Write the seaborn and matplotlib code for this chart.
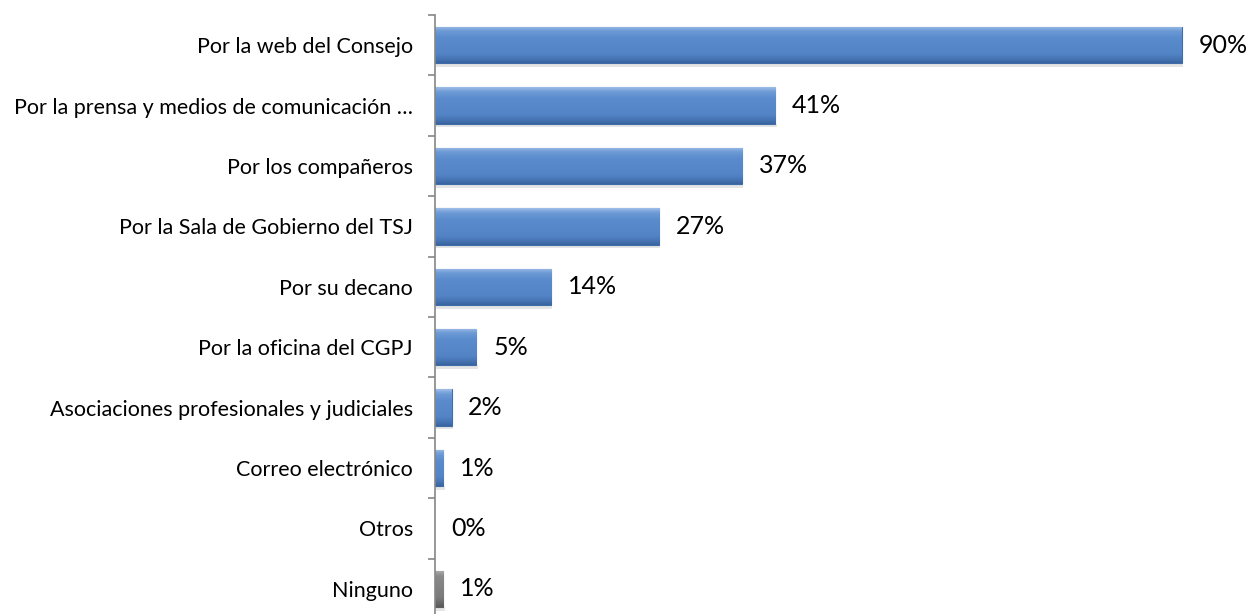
import matplotlib
matplotlib.use("Agg")
import matplotlib.pyplot as plt
import seaborn as sns
import pandas as pd
import numpy as np
from matplotlib.colors import LinearSegmentedColormap

categories = [
    "Por la web del Consejo",
    "Por la prensa y medios de comunicación …",
    "Por los compañeros",
    "Por la Sala de Gobierno del TSJ",
    "Por su decano",
    "Por la oficina del CGPJ",
    "Asociaciones profesionales y judiciales",
    "Correo electrónico",
    "Otros",
    "Ninguno",
]
values = [90, 41, 37, 27, 14, 5, 2, 1, 0, 1]
labels = ["90%", "41%", "37%", "27%", "14%", "5%", "2%", "1%", "0%", "1%"]

sns.set_theme(style="white")
plt.rcParams["font.family"] = ["Lato", "DejaVu Sans"]

df = pd.DataFrame({"cat": categories, "val": values})
colors = ["#5589CB"] * 9 + ["#7F7F7F"]

fig = plt.figure(figsize=(12.5, 6.14), dpi=100)
ax = fig.add_axes([435 / 1250, -5 / 614, 1 - 435 / 1250, (614 - 15 + 5) / 614])

sns.barplot(data=df, y="cat", x="val", hue="cat", palette=colors, legend=False,
            orient="h", width=0.6, ax=ax, saturation=1,
            edgecolor="#3F6DA8", linewidth=0.8)

blue_cmap = LinearSegmentedColormap.from_list(
    "b", [(0, "#9DBDE8"), (0.12, "#6E9BD6"), (0.3, "#5A8CCD"), (0.75, "#5385C6"),
          (0.9, "#4674B3"), (1, "#3A64A0")])
grey_cmap = LinearSegmentedColormap.from_list(
    "g", [(0, "#B0B0B0"), (0.15, "#8A8A8A"), (0.75, "#7A7A7A"), (1, "#5A5A5A")])
grad = np.linspace(0, 1, 64).reshape(-1, 1)

bars = list(ax.patches)
nb = len(bars)
for i, p in enumerate(bars):
    x0, y0 = p.get_x(), p.get_y()
    w, h = p.get_width(), p.get_height()
    if w <= 0:
        p.set_linewidth(0)
        continue
    is_grey = (i == nb - 1)
    cmap = grey_cmap if is_grey else blue_cmap
    if is_grey:
        p.set_edgecolor("#5F5F5F")
    # shadow
    ax.add_patch(plt.Rectangle((x0 + 0.15, y0 + h), w, 0.06, color="black", alpha=0.10,
                               linewidth=0, zorder=p.get_zorder() - 0.1))
    im = ax.imshow(grad, cmap=cmap, aspect="auto", extent=(x0, x0 + w, y0 + h, y0),
                   zorder=p.get_zorder() + 0.1, interpolation="bilinear")
    im.set_clip_path(p)

ax.set_xlim(0, 98.2)
ax.set_ylim(len(categories) - 0.5, -0.5)

for i, (v, lab) in enumerate(zip(values, labels)):
    ax.annotate(lab, xy=(v, i), xytext=(12, 0), textcoords="offset points",
                ha="left", va="center", fontsize=18, color="#000000")

ax.set_xlabel("")
ax.set_ylabel("")
ax.set_xticks([])
for s in ["top", "right", "bottom"]:
    ax.spines[s].set_visible(False)
ax.spines["left"].set_color("#868686")
ax.spines["left"].set_linewidth(1.2)
ax.spines["left"].set_zorder(5)

ax.set_yticks(range(len(categories)))
ax.set_yticklabels(categories, fontsize=15.5, color="#000000")
ax.tick_params(axis="y", which="major", length=0, pad=16)
ax.set_yticks(np.arange(-0.5, len(categories), 1.0), minor=True)
ax.tick_params(axis="y", which="minor", length=5, width=1.2, color="#868686", left=True)

fig.savefig("out.png", dpi=100)
